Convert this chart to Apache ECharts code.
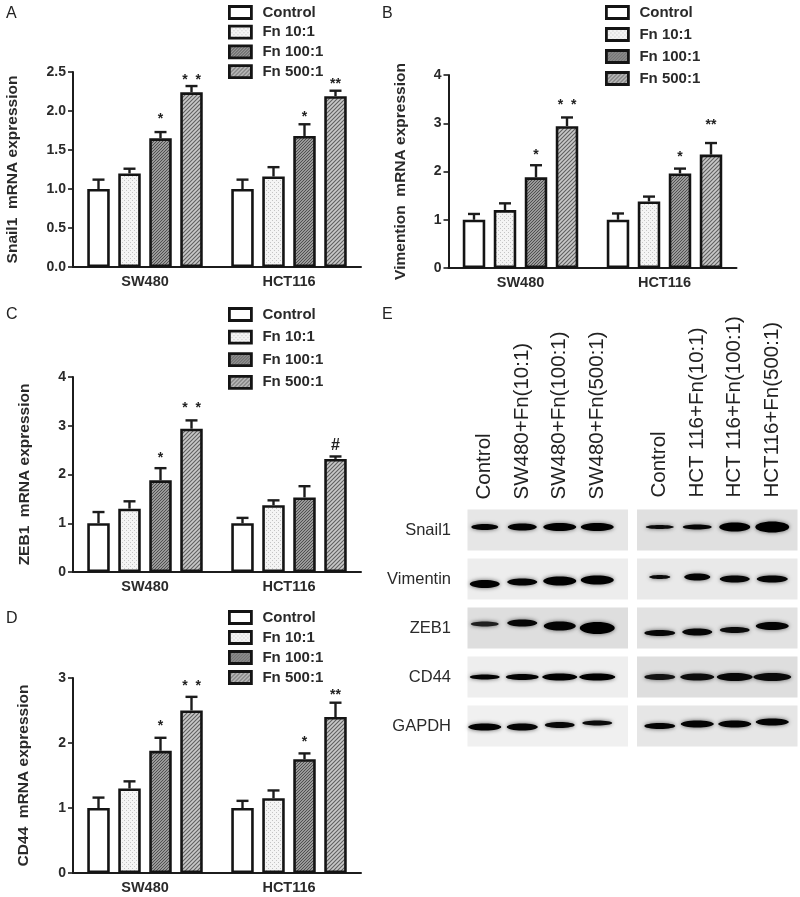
<!DOCTYPE html>
<html><head><meta charset="utf-8">
<style>html,body{margin:0;padding:0;background:#fff}#c{width:800px;height:897px;filter:blur(0.45px)}</style>
<script src="https://cdn.jsdelivr.net/npm/echarts@6/dist/echarts.min.js"></script>
</head><body><div id="c"></div>
<script>
// ---------- data ----------
const cellLines = ['SW480', 'HCT116'];
const treatments = ['Control', 'Fn 10:1', 'Fn 100:1', 'Fn 500:1'];

const snail1Mean = [[1.0, 1.2, 1.65, 2.24], [1.0, 1.16, 1.68, 2.19]];
const snail1Err  = [[0.12, 0.06, 0.08, 0.08], [0.12, 0.12, 0.15, 0.07]];
const snail1Sig  = [['', '', '*', '*  *'], ['', '', '*', '**']];

const vimMean = [[1.0, 1.2, 1.88, 2.94], [1.0, 1.38, 1.96, 2.35]];
const vimErr  = [[0.12, 0.14, 0.25, 0.18], [0.13, 0.1, 0.1, 0.24]];
const vimSig  = [['', '', '*', '*  *'], ['', '', '*', '**']];

const zebMean = [[1.0, 1.3, 1.88, 2.94], [1.0, 1.37, 1.53, 2.32]];
const zebErr  = [[0.23, 0.15, 0.25, 0.17], [0.11, 0.1, 0.23, 0.05]];
const zebSig  = [['', '', '*', '*  *'], ['', '', '', '#']];

const cd44Mean = [[1.0, 1.3, 1.88, 2.5], [1.0, 1.15, 1.75, 2.4]];
const cd44Err  = [[0.16, 0.11, 0.2, 0.21], [0.11, 0.12, 0.09, 0.22]];
const cd44Sig  = [['', '', '*', '*  *'], ['', '', '*', '**']];

const blotRows = ['Snail1', 'Vimentin', 'ZEB1', 'CD44', 'GAPDH'];
const swLanes  = ['Control', 'SW480+Fn(10:1)', 'SW480+Fn(100:1)', 'SW480+Fn(500:1)'];
const hctLanes = ['Control', 'HCT 116+Fn(10:1)', 'HCT 116+Fn(100:1)', 'HCT116+Fn(500:1)'];
// band darkness read from the blot (0..1), row by row
const swDark  = [[.95,.95,.97,.97],[.97,.95,.98,.98],[.55,.92,.95,1],[.95,.95,.97,.98],[.95,.92,.9,.85]];
const hctDark = [[.85,.92,1,1],[.85,.95,.9,.92],[.9,.92,.85,.95],[.72,.8,.88,.85],[.95,.95,.95,.95]];

// ---------- drawing tables (sizes, not data) ----------
const swW   = [[24,26,30,30],[27,27,30,30],[25,27,29,32],[27,30,32,33],[30,28,27,27]];
const swH   = [[5,6,7,7],[7,6,8,8],[4,6,8,11],[4,5,6,6],[6,6,5,4]];
const swDy  = [[-3,-3,-3,-3],[5,3,2,1],[-4,-5,-2,0],[0,0,0,0],[1,1,-1,-3]];
const hctW  = [[25,26,28,31],[18,23,27,28],[28,27,27,30],[28,31,33,35],[28,30,30,30]];
const hctH  = [[3,4,8,10],[3,6,6,6],[5,6,5,7],[5,6,7,7],[5,6,6,6]];
const hctDy = [[-3,-3,-3,-3],[-2,-2,0,0],[5,4,2,-2],[0,0,0,0],[0,-2,-2,-4]];
const swBg  = ['#e6e6e6','#ededed','#dedede','#eeeeee','#f0f0f0'];
const hctBg = ['#e0e0e0','#e9e9e9','#e2e2e2','#dedede','#e6e6e6'];

function patternCanvas(size, draw) {
  const c = document.createElement('canvas');
  c.width = c.height = size;
  draw(c.getContext('2d'));
  return {image: c, repeat: 'repeat'};
}
const fills = [
  '#ffffff',
  patternCanvas(4, g => { g.fillStyle = '#f4f4f4'; g.fillRect(0,0,4,4); g.fillStyle = '#c4c4c4'; g.fillRect(0,0,1,1); g.fillRect(2,2,1,1); }),
  patternCanvas(3, g => { g.fillStyle = '#9a9a9a'; g.fillRect(0,0,3,3); g.fillStyle = '#505050'; g.fillRect(0,0,1,1); g.fillRect(2,1,1,1); g.fillRect(1,2,1,1); }),
  patternCanvas(4, g => { g.fillStyle = '#c8c8c8'; g.fillRect(0,0,4,4); g.strokeStyle = '#606060'; g.lineWidth = 1.1;
    g.beginPath(); g.moveTo(-1,1); g.lineTo(1,-1); g.moveTo(0,4); g.lineTo(4,0); g.moveTo(3,5); g.lineTo(5,3); g.stroke(); })
];

const FONT = '"Liberation Sans", Arial, sans-serif';
const INK = '#1c1c1c';
const TXT = '#2a2a2a';
const BAR_W = 22.5, STEP = 31;

const panels = [
  {mean: snail1Mean, err: snail1Err, sig: snail1Sig, lift: [15, 8, 10, 9], name: 'Snail1  mRNA expression', max: 2.5, step: 0.5, dec: 1,
   grid: {left: 73, top: 72, width: 288, height: 195}, legend: {left: 228, top: 5, itemGap: 4.7}, nameGap: 52},
  {mean: vimMean, err: vimErr, sig: vimSig, lift: [13, 15, 14, 20], name: 'Vimention  mRNA expression', max: 4, step: 1, dec: 0,
   grid: {left: 448.5, top: 75, width: 288, height: 193}, legend: {left: 605, top: 5, itemGap: 7}, nameGap: 40},
  {mean: zebMean, err: zebErr, sig: zebSig, lift: [13, 15, 0, 11], name: 'ZEB1  mRNA expression', max: 4, step: 1, dec: 0,
   grid: {left: 73, top: 377, width: 288, height: 195}, legend: {left: 228, top: 307, itemGap: 7.6}, nameGap: 40},
  {mean: cd44Mean, err: cd44Err, sig: cd44Sig, lift: [14, 13, 14, 10], name: 'CD44  mRNA expression', max: 3, step: 1, dec: 0,
   grid: {left: 73, top: 678, width: 288, height: 195}, legend: {left: 228, top: 610, itemGap: 5}, nameGap: 41}
];

const grids = [], xAxes = [], yAxes = [], series = [], legends = [];

panels.forEach((p, pi) => {
  grids.push(p.grid);
  xAxes.push({type: 'category', gridIndex: pi, data: cellLines,
    axisTick: {alignWithLabel: true, length: 5, lineStyle: {color: INK, width: 1.6}},
    axisLine: {lineStyle: {color: INK, width: 2}},
    axisLabel: {fontFamily: FONT, fontWeight: 'bold', fontSize: 14.5, color: TXT, margin: 7}});
  yAxes.push({type: 'value', gridIndex: pi, min: 0, max: p.max, interval: p.step, splitLine: {show: false},
    name: p.name, nameLocation: 'middle', nameGap: p.nameGap,
    nameTextStyle: {fontFamily: FONT, fontWeight: 'bold', fontSize: 15.5, color: TXT},
    axisLine: {show: true, lineStyle: {color: INK, width: 2}},
    axisTick: {show: true, length: 5, lineStyle: {color: INK, width: 1.6}},
    axisLabel: {fontFamily: FONT, fontWeight: 'bold', fontSize: 14, color: TXT, margin: 7,
      formatter: v => v.toFixed(p.dec)}});
  treatments.forEach((t, ti) => {
    series.push({type: 'bar', name: t, xAxisIndex: pi, yAxisIndex: pi, barWidth: BAR_W, barGap: (STEP / BAR_W - 1) * 100 + '%',
      data: p.mean.map(g => g[ti]), silent: true,
      itemStyle: {color: fills[ti], borderColor: '#141414', borderWidth: 2.6}});
  });
  const rows = [];
  p.mean.forEach((g, gi) => g.forEach((m, ti) => rows.push([gi, m, ti, p.err[gi][ti], p.sig[gi][ti]])));
  series.push({type: 'custom', xAxisIndex: pi, yAxisIndex: pi, silent: true, z: 1, data: rows,
    encode: {x: 0, y: 1},
    renderItem(params, api) {
      const gi = api.value(0), ti = api.value(2), base = api.coord([gi, api.value(1)]);
      const x = base[0] + (ti - 1.5) * STEP;
      const top = api.coord([gi, api.value(1) + api.value(3)])[1];
      const sig = rows[params.dataIndex][4];
      const style = {stroke: INK, lineWidth: 2.4, fill: null};
      const children = [
        {type: 'line', shape: {x1: x, y1: base[1], x2: x, y2: top}, style},
        {type: 'line', shape: {x1: x - 6, y1: top, x2: x + 6, y2: top}, style}
      ];
      if (sig) {
        const lift = p.lift[gi * 2 + ti - 2];
        children.push({type: 'text', style: {text: sig, x, y: sig === '#' ? top - lift : top - lift + 2.5,
          align: 'center', verticalAlign: 'middle', fontFamily: FONT, fontWeight: 'bold',
          fontSize: sig === '#' ? 16 : 14, fill: '#222'}});
      }
      return {type: 'group', children};
    }});
  legends.push(Object.assign({data: treatments.map(name => ({name, icon: 'rect'})), orient: 'vertical', itemWidth: 22, itemHeight: 12, selectedMode: false,
    padding: 0, itemStyle: {borderColor: '#141414', borderWidth: 2.8},
    textStyle: {fontFamily: FONT, fontWeight: 'bold', fontSize: 15, color: TXT, padding: [0, 0, 0, 6]}}, p.legend));
});

// ---------- Western blot panels ----------
function addBlot(lanes, dark, wTab, hTab, dyTab, bg, gridBox, showRows, inset) {
  const gi = grids.length;
  grids.push(gridBox);
  xAxes.push({type: 'category', gridIndex: gi, position: 'top', data: lanes,
    axisLine: {show: false}, axisTick: {show: false},
    axisLabel: {interval: 0, rotate: -90, margin: showRows ? 6 : 8, fontFamily: FONT, fontSize: 20.5, color: '#222'}});
  yAxes.push({type: 'category', gridIndex: gi, inverse: true, data: blotRows,
    axisLine: {show: false}, axisTick: {show: false},
    axisLabel: {show: showRows, align: 'right', margin: 15, fontFamily: FONT,
      fontSize: 16.5, color: '#2a2a2a'}});
  series.push({type: 'custom', xAxisIndex: gi, yAxisIndex: gi, silent: true, z: 1,
    data: blotRows.map((r, i) => [0, i]), encode: {x: 0, y: 1},
    renderItem(params, api) {
      const c = api.coord([0, api.value(1)]);
      const laneW = api.size([1, 0])[0];
      return {type: 'rect', shape: {x: c[0] - laneW / 2 + inset, y: c[1] - 20.5, width: 160.5, height: 41},
        style: {fill: bg[params.dataIndex]}};
    }});
  const bands = [];
  dark.forEach((row, ri) => row.forEach((d, li) => bands.push([li, ri, d])));
  series.push({type: 'custom', xAxisIndex: gi, yAxisIndex: gi, silent: true, z: 2, data: bands, encode: {x: 0, y: 1},
    renderItem(params, api) {
      const li = api.value(0), ri = api.value(1), d = api.value(2);
      const c = api.coord([li, ri]);
      const w = wTab[ri][li], h = hTab[ri][li];
      const k = Math.round(70 * (1 - d));
      return {type: 'ellipse', shape: {cx: c[0], cy: c[1] + dyTab[ri][li], rx: w / 2 + 1.5, ry: h / 2 + 0.5},
        style: {fill: `rgb(${k},${k},${k})`, shadowBlur: 4, shadowColor: 'rgba(0,0,0,0.6)'}};
    }});
}
addBlot(swLanes,  swDark,  swW,  swH,  swDy,  swBg,  {left: 466, top: 505.5, width: 150, height: 245}, true, 1.5);
addBlot(hctLanes, hctDark, hctW, hctH, hctDy, hctBg, {left: 641, top: 505.5, width: 150, height: 245}, false, -4);

const letter = (text, left, top) => ({text, left, top, padding: 0,
  textStyle: {fontFamily: FONT, fontWeight: 'normal', fontSize: 16, color: '#222'}});

const chart = echarts.init(document.getElementById('c'));
chart.setOption({
  animation: false,
  backgroundColor: '#fff',
  title: [letter('A', 6, 6), letter('B', 382, 6), letter('C', 6, 307), letter('D', 6, 611), letter('E', 382, 307)],
  legend: legends,
  grid: grids,
  xAxis: xAxes,
  yAxis: yAxes,
  series
});
</script></body></html>
